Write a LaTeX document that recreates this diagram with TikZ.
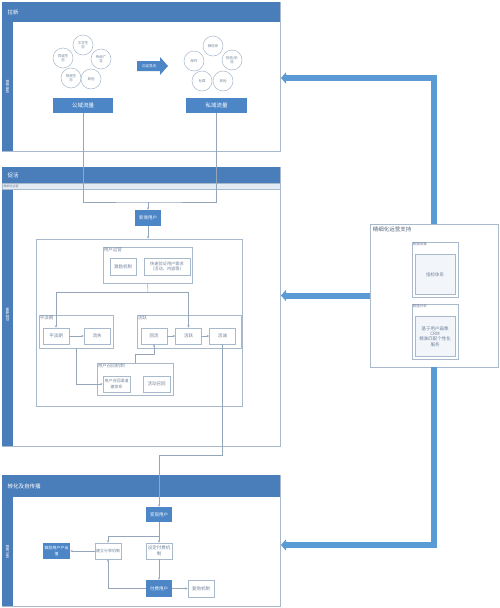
\documentclass[tikz,border=0pt]{standalone}
\usepackage{fontspec}
\setmainfont{Noto Sans CJK SC}
\usetikzlibrary{arrows.meta,positioning,calc}
\definecolor{LaneBlue}{HTML}{4A7EBB}
\definecolor{BoxBlue}{HTML}{4D86C6}
\definecolor{FlowBlue}{HTML}{5B9BD5}
\definecolor{Rule}{HTML}{A9B9CC}
\definecolor{Txt}{HTML}{6F819A}
\definecolor{SubBar}{HTML}{E3EBF5}
\newcommand{\FontAt}[2]{\fontsize{#1}{#2}\selectfont}
\newcommand{\Lane}[6]{% name, top, header bottom, bottom, title, side text
  \draw[Rule,line width=0.7pt] (2,#2) rectangle (280,#4);
  \fill[LaneBlue] (2,#2) rectangle (280,#3);
  \fill[LaneBlue] (2,#3) rectangle (13,#4);
  \node[anchor=west,text=white,font=\FontAt{5.5}{6.5}] (#1-title) at (4,{(#2+#3)/2}) {#5};
  \node[rotate=90,text=white,font=\FontAt{3.5}{4}] (#1-side) at (7.5,{(#3+#4)/2}) {#6};
}

\begin{document}
\begin{tikzpicture}[x=1pt,y=-1pt,
  bluebox/.style={fill=BoxBlue,text=white,minimum width=26pt,minimum height=16pt,
    inner sep=0.5pt,align=center,font=\FontAt{4.5}{5.6}},
  whitebox/.style={draw=Rule,fill=white,text=Txt,minimum width=26pt,minimum height=16pt,
    inner sep=0.5pt,align=center,font=\FontAt{4.5}{5.6},line width=0.5pt},
  groupbox/.style={draw=Rule,line width=0.6pt,inner sep=0pt},
  grouplabel/.style={anchor=north west,text=Txt,inner sep=1pt,font=\FontAt{4.5}{5}},
  circ/.style={circle,draw=Rule,minimum size=20pt,inner sep=0pt,align=center,
    text=Txt,font=\FontAt{3.5}{4.2},line width=0.5pt},
  link/.style={draw=Rule!65!Txt,line width=0.5pt},
  linkarrow/.style={link,-{Stealth[length=2.5pt,width=2.2pt]}},
  support/.style={FlowBlue,line width=6pt,-{Triangle[length=5pt,width=11pt]}}]
\useasboundingbox (0,0) rectangle (500,608);

% lanes
\Lane{lx}{2}{22}{151}{拉新}{获客渠道}
\Lane{ch}{167}{183}{446}{促活}{运营策略}
\draw[Rule,fill=SubBar,line width=0.4pt] (2,183) rectangle (280,189);
\node[anchor=west,text=Txt,inner sep=0.5pt,font=\FontAt{3}{3.5}] (ch-sub) at (3,186) {精细化运营};
\Lane{zh}{475}{497}{606}{转化及自传播}{转化渠道}

% --- 拉新
\foreach \n/\x/\y/\t in {c1/83/45/{文学生\\态}, c2/63/58/{同城生\\态}, c3/101/59/{传统广\\告},
                        c4/71/78/{视频生\\态}, c5/91/79/{其他}} {
  \node[circ] (\n) at (\x,\y) {\t};
}
\foreach \n/\x/\y/\t in {d1/213/46/{微信系}, d2/194/61/{邮件}, d3/232/60/{短信/彩\\信},
                        d4/202/81/{社群}, d5/223/81/{其他}} {
  \node[circ] (\n) at (\x,\y) {\t};
}
\fill[BoxBlue] (137,61) -- (160,61) -- (160,57) -- (168,66) -- (160,75) -- (160,71) -- (137,71) -- cycle;
\node[text=white,font=\FontAt{3.5}{4}] (dl) at (149,66) {沉淀导流};
\node[bluebox,minimum width=60pt,minimum height=15pt,font=\FontAt{5.5}{6}] (gy) at (83,105.5) {公域流量};
\node[bluebox,minimum width=61pt,minimum height=15pt,font=\FontAt{5.5}{6}] (sy) at (216.5,105.5) {私域流量};

% --- 促活
\coordinate (merge) at (148,202);
\node[bluebox,minimum height=16pt] (xz) at (148,218) {新增用户};
\draw[link] (gy.south) |- (merge) -| (sy.south);
\draw[linkarrow] (merge) -- (xz.north);

\node[groupbox,minimum width=206pt,minimum height=167pt] (yy) at (139,322.5) {};
\draw[linkarrow] (xz.south) -- (xz.south |- yy.north);

\node[groupbox,minimum width=89pt,minimum height=36pt] (yyg) at (147.5,265) {};
\node[grouplabel] (yyg-l) at (yyg.north west) {用户运营};
\node[whitebox,minimum height=17pt] (jl) at (123,266.5) {激励机制};
\node[whitebox,minimum width=46pt,minimum height=17pt,font=\FontAt{4.2}{5.4}] (ks) at (167,266.5) {快速验证用户需求\\（活动、内容等）};

\node[groupbox,minimum width=74pt,minimum height=33pt] (pdg) at (76,331.5) {};
\node[grouplabel] (pdg-l) at (pdg.north west) {平淡期};
\node[whitebox] (pd) at (56,336) {平淡期};
\node[whitebox] (ls) at (97,336) {流失};

\node[groupbox,minimum width=104pt,minimum height=33pt] (hyg) at (189,331.5) {};
\node[grouplabel] (hyg-l) at (hyg.north west) {活跃};
\node[whitebox] (hl) at (154,336) {回流};
\node[whitebox] (hy) at (188.5,336) {活跃};
\node[whitebox] (zc) at (222.5,336) {忠诚};

\node[groupbox,minimum width=76pt,minimum height=32pt] (zhg) at (135,379) {};
\node[grouplabel] (zhg-l) at (zhg.north west) {用户召回机制};
\node[whitebox,minimum width=27pt,font=\FontAt{4}{5.2}] (zq) at (116.5,384) {用户召回渠道\\建体系};
\node[whitebox,minimum width=27pt] (hd) at (156.5,384) {活动召回};

\coordinate (split) at (148,292);
\draw[link] (yyg.south) -- (split);
\draw[linkarrow] (split) -| (pd.north);
\draw[linkarrow] (split) -| (hy.north);
\draw[linkarrow] (pd) -- (ls);
\draw[linkarrow] (hl) -- (hy);
\draw[linkarrow] (hy) -- (zc);
\draw[linkarrow] (pdg.south) |- (zq.west);
\draw[linkarrow] (zhg.north) -- ++(0,-8) -| (hl.south);

% --- 转化及自传播
\node[bluebox,minimum height=15pt] (bx) at (159,514.5) {变现用户};
\coordinate (turn) at (159,455);
\draw[linkarrow] (zc.south) |- (turn) -- (bx.north);

\node[whitebox,font=\FontAt{4}{5.2}] (fx) at (108,551) {建立分享机制};
\node[whitebox] (ff) at (159,551) {设定付费机\\制};
\node[bluebox,minimum width=27pt,font=\FontAt{4}{5.2}] (gl) at (56.5,551) {鼓励用户产出\\值};
\node[bluebox,minimum height=17pt] (fu) at (159,588.5) {付费用户};
\node[whitebox,minimum height=17pt] (fg) at (201,588.5) {复购机制};
\coordinate (split3) at (159,536);
\draw[link] (bx.south) -- (split3);
\draw[linkarrow] (split3) -| (fx.north);
\draw[linkarrow] (split3) -- (ff.north);
\draw[linkarrow] (fx.west) -- (gl.east);
\draw[linkarrow] (ff.south) -- (fu.north);
\draw[linkarrow] (fu.east) -- (fg.west);
\draw[linkarrow] (fu.west) -| (fx.south);

% --- 精细化运营支持
\node[draw=Rule,fill=white,line width=0.6pt,minimum width=128pt,minimum height=143pt] (jx) at (434,295.5) {};
\node[anchor=north west,text=Txt!80!black,inner sep=1pt,font=\FontAt{5.5}{6}] (jx-l) at ([shift={(2,2)}]jx.north west) {精细化运营支持};
\node[groupbox,minimum width=46pt,minimum height=55pt] (cj) at (435,269.5) {};
\node[grouplabel,font=\FontAt{3.5}{4}] (cj-l) at (cj.north west) {数据采集};
\node[whitebox,fill=SubBar!45,minimum width=40pt,minimum height=40pt] (zb) at (435,274.5) {指标体系};
\node[groupbox,minimum width=46pt,minimum height=55pt] (fxg) at (435,331.5) {};
\node[grouplabel,font=\FontAt{3.5}{4}] (fxg-l) at (fxg.north west) {数据分析};
\node[whitebox,fill=SubBar!45,minimum width=40pt,minimum height=40pt,font=\FontAt{4.5}{5.4}] (hx) at (435,336.5) {基于用户画像\\CRM\\精准匹配个性化\\服务};

\coordinate (in1) at (281,78);
\coordinate (in2) at (281,295.5);
\coordinate (in3) at (281,545);
\draw[support] (jx.north) |- (in1);
\draw[support] (jx.west) -- (in2);
\draw[support] (jx.south) |- (in3);
\end{tikzpicture}
\end{document}
